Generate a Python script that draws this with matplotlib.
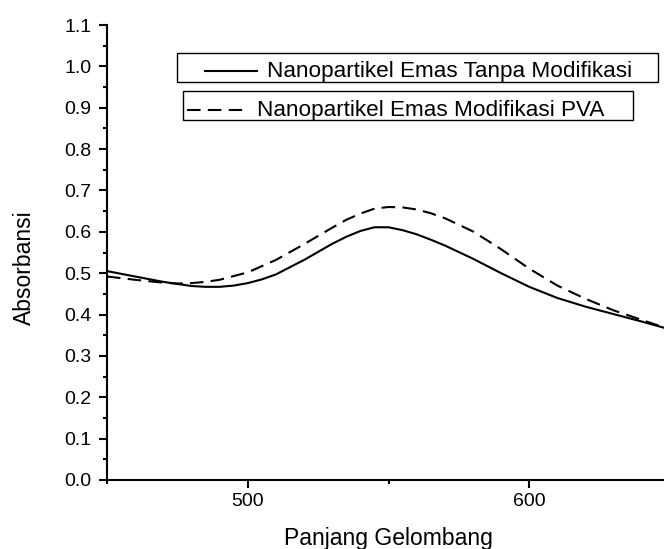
import numpy as np
import matplotlib
matplotlib.use('Agg')
import matplotlib.pyplot as plt
from matplotlib.ticker import MultipleLocator, FormatStrFormatter
from matplotlib.lines import Line2D
from matplotlib.patches import Rectangle

plt.rcParams['font.family'] = ['Liberation Sans', 'DejaVu Sans']

## ---------------- data ---------------- ##
wl_plain = [450, 460, 470, 480, 485, 490, 495, 500, 505, 510, 520, 530, 535,
            540, 545, 550, 555, 560, 565, 570, 580, 590, 600, 610, 620, 630,
            640, 650]
abs_plain = [0.505, 0.492, 0.479, 0.469, 0.467, 0.467, 0.470, 0.476, 0.485,
             0.497, 0.532, 0.571, 0.588, 0.602, 0.611, 0.611, 0.604, 0.594,
             0.581, 0.567, 0.535, 0.500, 0.467, 0.440, 0.419, 0.401, 0.383,
             0.364]

wl_pva = [450, 460, 470, 475, 480, 485, 490, 500, 510, 520, 530, 535, 540,
          545, 550, 555, 560, 565, 570, 580, 590, 600, 610, 620, 630, 640, 650]
abs_pva = [0.492, 0.484, 0.477, 0.475, 0.476, 0.479, 0.484, 0.502, 0.532,
           0.570, 0.610, 0.629, 0.644, 0.656, 0.660, 0.659, 0.654, 0.645,
           0.633, 0.601, 0.558, 0.511, 0.470, 0.438, 0.410, 0.387, 0.364]

label_plain = 'Nanopartikel Emas Tanpa Modifikasi'
label_pva = 'Nanopartikel Emas Modifikasi PVA'

## ---------------- figure ---------------- ##
W, H = 664, 549
fig = plt.figure(figsize=(W / 100, H / 100), dpi=100)

# axes in pixel terms: spine at x=107 (450) .. 670 (650), y=480 (0.0) .. 25 (1.1)
ax = fig.add_axes([107 / W, (H - 480) / H, 563 / W, 455 / H])

lw = 1.5
ax.plot(wl_plain, abs_plain, color='black', lw=lw, solid_joinstyle='round')
ax.plot(wl_pva, abs_pva, color='black', lw=lw, dashes=(6.5, 3.5))

ax.set_xlim(450, 650)
ax.set_ylim(0, 1.1)

ax.xaxis.set_major_locator(MultipleLocator(100))
ax.xaxis.set_minor_locator(MultipleLocator(50))
ax.yaxis.set_major_locator(MultipleLocator(0.1))
ax.yaxis.set_minor_locator(MultipleLocator(0.05))
ax.yaxis.set_major_formatter(FormatStrFormatter('%.1f'))

for s in ['top', 'right']:
    ax.spines[s].set_visible(False)
for s in ['left', 'bottom']:
    ax.spines[s].set_linewidth(1.5)

ax.tick_params(which='major', direction='out', length=6, width=1.5,
               labelsize=14)
ax.tick_params(axis='y', which='major', pad=5)
ax.tick_params(axis='x', which='major', pad=3)
ax.tick_params(which='minor', direction='out', length=3, width=1.5)

ax.set_xlabel('Panjang Gelombang', fontsize=16.5, va='top')
ax.xaxis.set_label_coords((388 - 107) / 563, (480 - 527) / 455)
ax.set_ylabel('Absorbansi', fontsize=16.5, va='center')
ax.yaxis.set_label_coords((24 - 107) / 563, (480 - 268) / 455)

## ---------------- legend boxes (two separate frames) ---------------- ##
def fx(px):
    return px / W

def fy(py):
    return 1 - py / H

entries = [
    # box left, top, right, bottom, line x0, x1, line y, text x, baseline, style
    (177, 53, 658, 82, 205, 257, 71, 267, 77, '-', label_plain),
    (183, 91, 633, 120, 187, 247, 110, 257, 116, '--', label_pva),
]
for x0, y0, x1, y1, lx0, lx1, ly, tx, ty, style, text in entries:
    fig.add_artist(Rectangle((fx(x0), fy(y1)), fx(x1) - fx(x0), fy(y0) - fy(y1),
                             transform=fig.transFigure, fill=False,
                             edgecolor='black', lw=1.0))
    line = Line2D([fx(lx0), fx(lx1)], [fy(ly), fy(ly)],
                  transform=fig.transFigure, color='black', lw=lw)
    if style == '--':
        line.set_dashes((6.5, 3.5))
    fig.add_artist(line)
    fig.text(fx(tx), fy(ty), text, fontsize=16.2, ha='left', va='baseline')

fig.savefig('out.png', dpi=100)
